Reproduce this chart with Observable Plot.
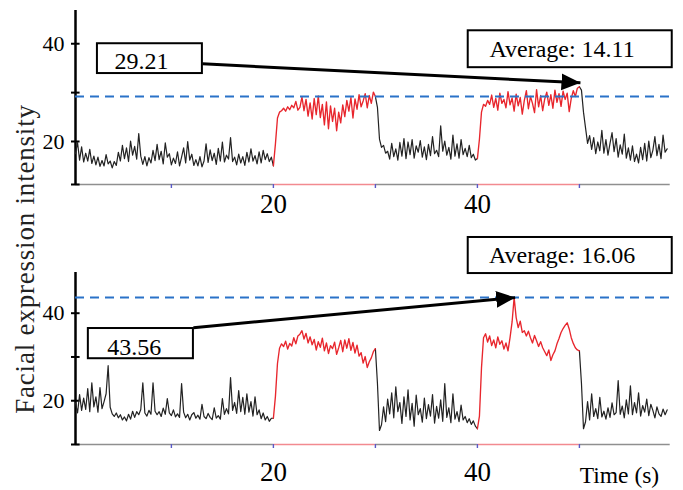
<!DOCTYPE html>
<html><head><meta charset="utf-8">
<script src="https://cdn.jsdelivr.net/npm/d3@7"></script>
<script src="https://cdn.jsdelivr.net/npm/@observablehq/plot@0.6"></script>
<style>
body{margin:0;background:#fff;}
#wrap{position:relative;width:683px;height:490px;overflow:hidden;font-family:"Liberation Serif","Times New Roman",serif;background:#fff;}
#wrap svg, #wrap svg text{font-family:"Liberation Serif","Times New Roman",serif !important;}
#ylab{position:absolute;left:25px;top:259px;transform:translate(-50%,-50%) rotate(-90deg);white-space:nowrap;font-size:27px;letter-spacing:0.8px;color:#222;}
svg{display:block}
</style></head><body><div id="wrap"><div id="ylab"></div></div>
<script>
// ---- texts & ticks ----
const yTitle = "Facial expression intensity";
const xTitle = "Time (s)";
const xTicks = [10, 20, 30, 40, 50];
const xTickLabels = [20, 40];
const yTicks = [20, 30, 40];
const yTickLabels = [20, 40];
// ---- sampling of the series ----
const tStart = 0.6, tStep = 0.2;
const stimWindows = [[20, 30], [40, 50]];
// ---- summary values ----
const topPeak = 29.21, topAverage = 14.11;
const bottomPeak = 43.56, bottomAverage = 16.06;
// ---- series values (one every 0.2 s) ----
const topValues = [
17.5,19.8,16.2,18.9,15.8,17.6,16.0,18.4,15.5,17.0,
15.2,16.8,14.9,16.1,15.0,17.3,15.4,16.0,14.6,15.9,
15.1,17.8,16.0,19.2,16.5,18.7,15.9,20.1,17.2,19.0,
16.4,21.6,17.0,15.3,16.9,15.0,16.7,15.6,18.2,16.1,
19.4,16.3,18.0,15.4,19.7,16.8,17.5,15.2,16.6,15.5,
17.9,15.0,16.8,18.7,15.6,20.0,16.2,17.4,15.1,16.3,
15.0,16.9,14.8,16.0,19.5,15.7,18.3,16.1,17.6,15.3,
18.6,16.0,19.9,15.8,17.2,16.4,20.8,15.9,16.8,15.2,
17.4,15.6,16.9,15.1,17.8,15.8,18.5,16.0,17.1,15.4,
17.9,15.6,18.2,16.3,17.5,15.9,16.8,
15.0,19.5,24.8,26.0,26.3,
26.8,26.2,27.1,26.5,27.4,26.9,28.2,26.4,27.0,29.1,
26.3,28.6,25.2,27.9,24.6,28.8,25.5,29.3,24.9,27.6,
23.4,28.1,22.6,27.3,24.1,26.8,22.2,26.0,23.8,27.5,
25.1,28.4,26.2,29.0,24.8,28.7,26.6,29.6,27.1,28.3,
29.8,26.9,29.4,27.8,30.1,29.2,
27.0,20.5,18.8,
19.2,17.6,18.0,16.4,19.6,16.9,18.5,16.2,19.8,17.0,
20.6,16.5,19.9,17.3,20.4,16.6,19.1,17.8,20.2,16.8,
18.9,16.3,19.4,17.1,21.0,17.5,18.2,16.9,23.2,18.0,
20.1,17.2,18.8,16.4,21.3,17.0,19.5,16.6,20.4,17.3,
18.6,16.9,19.2,16.7,17.4,16.2,16.5,
20.5,26.0,27.6,
27.2,28.4,27.6,29.5,27.0,28.8,26.4,29.9,27.8,28.6,
26.9,30.2,27.5,28.9,26.2,29.7,27.3,29.0,25.6,28.4,
30.4,26.7,29.2,27.8,25.9,30.6,27.1,29.4,26.3,28.7,
30.1,27.4,29.6,26.8,30.5,28.0,29.8,27.2,30.3,28.6,
29.9,26.1,28.8,30.4,29.2,30.9,31.2,
30.5,26.0,22.8,
19.6,21.2,18.4,20.8,17.5,19.9,18.1,22.3,17.6,20.4,
17.2,19.6,21.8,17.9,20.6,16.8,19.3,17.4,21.5,16.6,
18.7,16.2,19.1,15.9,17.4,15.6,18.8,16.3,19.6,16.0,
20.1,16.7,18.2,21.0,17.1,19.4,16.5,21.3,17.8,18.5
];
const bottomValues = [
19.5,17.2,21.4,17.8,20.6,18.0,22.8,17.5,24.1,18.6,
20.9,17.4,23.0,18.2,19.8,21.6,28.0,18.5,17.0,16.4,
17.2,16.1,16.8,15.6,16.3,15.4,16.9,15.8,17.6,16.2,
17.5,16.8,18.0,24.1,17.2,16.5,17.8,16.9,24.1,17.6,
16.8,17.5,16.4,18.3,16.9,20.5,17.2,16.6,17.9,16.3,
17.0,16.2,23.9,17.4,16.1,16.9,15.6,16.8,17.3,16.0,
16.7,15.8,19.2,16.4,15.9,17.1,16.2,15.7,18.4,16.0,
16.6,15.8,20.5,16.9,18.2,17.0,25.3,17.8,19.6,17.1,
22.3,17.5,20.8,16.9,21.6,17.4,19.8,16.5,20.9,16.8,
17.9,15.9,17.2,15.6,16.4,15.3,16.0,
16.0,21.0,28.5,32.0,33.0,
32.4,33.6,31.8,33.1,32.5,34.4,33.0,34.8,35.2,36.0,
34.1,35.4,33.2,34.6,32.8,34.0,31.6,33.5,32.2,34.3,
31.4,33.2,30.8,32.6,31.9,33.4,30.6,32.1,33.8,31.2,
33.9,32.0,34.2,31.5,33.3,30.9,32.7,30.2,31.0,28.6,
30.1,27.6,28.9,29.8,31.2,31.9,
24.0,13.2,14.5,
18.6,15.2,20.4,17.0,21.8,16.1,23.2,17.5,19.6,14.8,
20.9,16.4,22.5,15.6,19.4,14.2,21.3,16.8,18.2,15.1,
20.6,15.9,19.1,16.5,21.4,14.9,18.7,16.0,20.2,15.3,
23.9,16.2,18.4,15.0,21.6,15.8,17.5,15.2,19.0,15.6,
16.4,15.0,15.9,14.6,15.4,14.2,13.6,
16.5,27.5,34.4,
35.3,33.4,34.8,32.6,33.9,32.1,34.6,32.9,33.7,31.8,
33.2,31.4,34.4,38.0,43.56,39.0,36.7,38.2,35.6,36.0,
34.8,35.9,34.4,33.2,34.9,33.7,32.4,33.5,32.1,31.2,
30.3,31.6,29.2,30.5,31.4,33.0,34.2,35.6,36.5,37.2,
37.8,36.4,34.4,33.1,32.1,31.6,31.4,
24.0,13.6,15.2,
19.8,15.6,21.6,16.4,18.2,15.9,20.8,16.3,17.6,15.8,
18.4,16.2,19.5,16.8,17.3,24.6,16.9,18.8,16.1,20.2,
17.0,23.4,16.8,19.6,17.2,21.8,16.5,18.9,17.4,20.4,
16.6,19.2,17.8,16.1,18.6,17.0,16.4,18.1,16.8,17.9
];

// ---- layout / style (kept apart from the data) ----
const FONT = '"Liberation Serif","Times New Roman",serif';
const RED = "#e8262d", BLACK = "#222", BLUE = "#2a72c8";
const AXIS_GREY = "#8f8f8f", AXIS_RED = "#f28a90", TICK_BLUE = "#5a5ac8";
const xDomain = [0.6, 58.9];
const topLayout = {height: 230, marginTop: 10, marginBottom: 46, yDomain: [11.2, 46.8], xPad: 5};
const bottomLayout = {height: 260, marginTop: 42, marginBottom: 46, yDomain: [10, 49.3], xPad: 13};
const topAnn = {
  boxes: [
    {x1: 2.75, x2: 13.04, y1: 33.9, y2: 40.0, tx: 7.06, ty: 36.4, text: topPeak.toFixed(2)},
    {x1: 39.1, x2: 59.1, y1: 35.1, y2: 42.65, tx: 48.3, ty: 38.9, text: `Average: ${topAverage.toFixed(2)}`}
  ],
  arrow: {x1: 13.04, y1: 35.9, x2: 50.1, y2: 32.0}
};
const bottomAnn = {
  boxes: [
    {x1: 1.86, x2: 12.16, y1: 29.6, y2: 36.5, tx: 6.37, ty: 32.2, text: bottomPeak.toFixed(2)},
    {x1: 39.1, x2: 59.1, y1: 49.06, y2: 57.3, tx: 48.3, ty: 53.2, text: `Average: ${bottomAverage.toFixed(2)}`}
  ],
  arrow: {x1: 12.16, y1: 36.7, x2: 43.7, y2: 43.56}
};

function makePanel(values, peak, layout, ann, id, withTitle) {
  const rows = values.map((v, i) => ({t: Math.round((tStart + i * tStep) * 10) / 10, v}));
  const tEnd = rows[rows.length - 1].t;
  const bounds = [tStart, ...stimWindows.flat(), tEnd];
  const segs = [];
  for (let k = 0; k < bounds.length - 1; k++) {
    const a = bounds[k], b = bounds[k + 1];
    const kind = k % 2 === 1 ? "stim" : "rest";
    rows.filter(r => r.t >= a && r.t <= b).forEach(r => segs.push({...r, seg: k, kind}));
  }
  const axisBounds = [xDomain[0], ...stimWindows.flat(), xDomain[1]];
  const axisSegs = [];
  for (let k = 0; k < axisBounds.length - 1; k++) {
    axisSegs.push({x1: axisBounds[k], x2: axisBounds[k + 1], y: layout.yDomain[0], kind: k % 2 === 1 ? "stim" : "rest"});
  }
  const yTickAll = [layout.yDomain[0], ...yTicks];
  const marks = [
    Plot.ruleY(axisSegs.filter(d => d.kind === "rest"), {x1: "x1", x2: "x2", y: "y", stroke: AXIS_GREY, strokeWidth: 1.6}),
    Plot.ruleY(axisSegs.filter(d => d.kind === "stim"), {x1: "x1", x2: "x2", y: "y", stroke: AXIS_RED, strokeWidth: 1.6}),
    Plot.axisX({ticks: xTicks, tickFormat: d => xTickLabels.includes(d) ? String(d) : "", tickSize: 4,
      stroke: TICK_BLUE, strokeWidth: 1.4, fontSize: 27, fontFamily: FONT, tickPadding: layout.xPad, label: null}),
    Plot.axisY({ticks: yTickAll, tickFormat: d => yTickLabels.includes(d) ? String(d) : "",
      tickSize: 4, strokeWidth: 2, fontSize: 22, fontFamily: FONT, tickPadding: 7, label: null}),
    Plot.ruleY(yTickAll, {x1: xDomain[0], x2: xDomain[0] + 0.45, stroke: "#000", strokeWidth: 2}),
    Plot.ruleX([xDomain[0]], {stroke: "#000", strokeWidth: 2.5}),
    Plot.line(segs.filter(d => d.kind === "rest"), {x: "t", y: "v", z: "seg", stroke: BLACK, strokeWidth: 1.2}),
    Plot.line(segs.filter(d => d.kind === "stim"), {x: "t", y: "v", z: "seg", stroke: RED, strokeWidth: 1.35}),
    Plot.ruleY([peak], {stroke: BLUE, strokeWidth: 2, strokeDasharray: "9,6"}),
    Plot.link([ann.arrow], {x1: "x1", y1: "y1", x2: "x2", y2: "y2", stroke: "#000", strokeWidth: 3}),
    Plot.rect(ann.boxes, {x1: "x1", x2: "x2", y1: "y1", y2: "y2", fill: "#fff", stroke: "#000", strokeWidth: 2}),
    Plot.text(ann.boxes, {x: "tx", y: "ty", text: "text", fontSize: 24, fontFamily: FONT, fill: "#000"})
  ];
  if (withTitle) {
    marks.push(Plot.text([xTitle], {frameAnchor: "bottom-right", textAnchor: "end", lineAnchor: "middle",
      dx: -11, dy: 31, fontSize: 23.5, fontFamily: FONT, fill: "#000"}));
  }
  const plot = Plot.plot({
    width: 683, height: layout.height,
    marginLeft: 75, marginRight: 13.3, marginTop: layout.marginTop, marginBottom: layout.marginBottom,
    x: {domain: xDomain},
    y: {domain: layout.yDomain},
    style: {fontFamily: FONT, color: "#000", background: "#fff", overflow: "visible"},
    marks
  });
  // filled arrowhead marker on the annotation link
  const svg = d3.select(plot);
  const defs = svg.insert("defs", ":first-child");
  defs.append("marker").attr("id", "head-" + id)
    .attr("markerUnits", "userSpaceOnUse").attr("markerWidth", 22).attr("markerHeight", 22)
    .attr("viewBox", "0 -11 22 22").attr("refX", 19).attr("refY", 0).attr("orient", "auto")
    .append("path").attr("d", "M0,-8.5L19,0L0,8.5Z").attr("fill", "#000");
  svg.selectAll('g[aria-label="link"] path').attr("marker-end", `url(#head-${id})`);
  return plot;
}

const wrap = document.getElementById("wrap");
wrap.insertBefore(makePanel(topValues, topPeak, topLayout, topAnn, "top", false), wrap.firstChild);
wrap.insertBefore(makePanel(bottomValues, bottomPeak, bottomLayout, bottomAnn, "bottom", true), document.getElementById("ylab"));
document.getElementById("ylab").textContent = yTitle;
</script>
</body></html>
